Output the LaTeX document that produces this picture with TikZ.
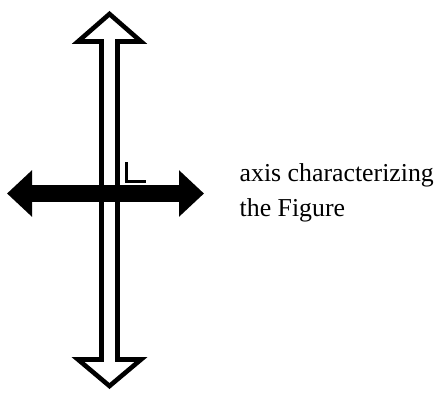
\documentclass[tikz,border=0pt]{standalone}
\usepackage{fontspec}
\setmainfont{Liberation Serif}
\usepackage{tikz}
\usetikzlibrary{arrows.meta, positioning}

\begin{document}
\begin{tikzpicture}[
        x=1pt, y=-1pt,
        hollowaxis/.style={draw=black, fill=white, line width=4.6pt, line join=miter},
        solidaxis/.style={draw=black, line width=17pt, {Triangle[length=25pt, width=45pt]}-{Triangle[length=25pt, width=45pt]}},
        marker/.style={draw=black, line width=3.4pt},
        caption/.style={align=left, inner sep=0pt, font=\fontsize{25.8}{34.3}\selectfont}
    ]
    \useasboundingbox (0,0) rectangle (438,393);

    % vertical hollow double arrow
    \coordinate (top) at (109.5,14);
    \coordinate (bottom) at (109.5,386);
    \draw[hollowaxis] (top) -- ++(31.5,27.5) -- ++(-23.5,0) -- (117.5,359.5) -- ++(23.5,0)
        -- (bottom) -- ++(-31.5,-26.5) -- ++(23.5,0) -- (101.5,41.5) -- ++(-23.5,0) -- cycle;

    % horizontal solid double arrow
    \coordinate (left) at (7,193.5);
    \coordinate (right) at (204,193.5);
    \draw[solidaxis] (left) -- (right);

    % right angle mark
    \draw[marker] (126.5,162) -- (126.5,181.5) -- (145.5,181.5);

    \node[caption, anchor=base west] (label) at (239.5,216) {axis characterizing\\the Figure};
\end{tikzpicture}
\end{document}
